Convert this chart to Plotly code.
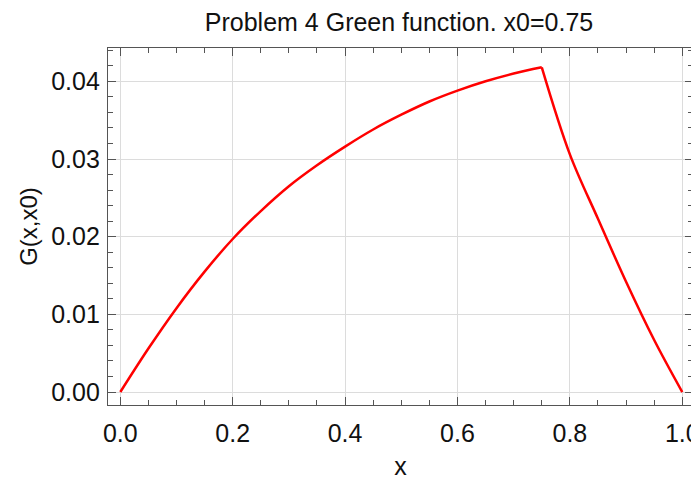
import plotly.graph_objects as go

# Left branch (0 <= x <= x0) and right branch (x0 <= x <= 1)
left_x = [0.0, 0.05, 0.1, 0.15, 0.2, 0.25, 0.3, 0.35, 0.4, 0.45, 0.5, 0.55, 0.6, 0.65, 0.7, 0.75]
left_g = [0.0, 0.0056, 0.0108, 0.0155, 0.0197, 0.0233, 0.0265, 0.0292, 0.0316, 0.0338, 0.0357, 0.0374, 0.0388, 0.0400, 0.0410, 0.0418]
right_x = [0.75, 0.8, 0.85, 0.9, 0.95, 1.0]
right_g = [0.0418, 0.0306, 0.0223, 0.0142, 0.0067, 0.0]

x_ticks = [0.0, 0.2, 0.4, 0.6, 0.8, 1.0]
x_ticklabels = ["0.0", "0.2", "0.4", "0.6", "0.8", "1.0"]
y_ticks = [0.0, 0.01, 0.02, 0.03, 0.04]
y_ticklabels = ["0.00", "0.01", "0.02", "0.03", "0.04"]

title_text = "Problem 4 Green function. x0=0.75"
x_label = "x"
y_label = "G(x,x0)"

RED = "#ff0000"
FRAME = "#555555"
TEXT = "#111111"
FONT = "Liberation Sans, Arial, sans-serif"

fig = go.Figure()
for xs, gs in ((left_x, left_g), (right_x, right_g)):
    fig.add_trace(go.Scatter(x=xs, y=gs, mode="lines",
                             line=dict(color=RED, width=2.5, shape="spline", smoothing=1.0),
                             showlegend=False, hoverinfo="skip"))

axis_common = dict(
    showline=True, linecolor=FRAME, linewidth=1.2, mirror="allticks",
    ticks="inside", ticklen=8, tickwidth=1.2, tickcolor=FRAME,
    showgrid=True, gridcolor="#dcdcdc", gridwidth=1,
    zeroline=False, automargin=False,
    tickfont=dict(family=FONT, size=25, color=TEXT),
)

fig.update_xaxes(
    range=[-0.0219, 1.0191], tickmode="array", tickvals=x_ticks, ticktext=x_ticklabels,
    minor=dict(dtick=0.05, tick0=0, ticks="inside", ticklen=4.5, tickcolor=FRAME, showgrid=False),
    title=dict(text=x_label, font=dict(family=FONT, size=25, color=TEXT), standoff=11),
    ticklabelstandoff=6,
    **axis_common,
)
fig.update_yaxes(
    range=[-0.00167, 0.04429], tickmode="array", tickvals=y_ticks, ticktext=y_ticklabels,
    minor=dict(dtick=0.002, tick0=0, ticks="inside", ticklen=4.5, tickcolor=FRAME, showgrid=False),
    title=dict(text=y_label, font=dict(family=FONT, size=24, color=TEXT), standoff=6),
    ticklabelstandoff=2,
    **axis_common,
)

# The page body adds an 8px offset; margins compensate so the frame lands where the reference has it.
fig.update_layout(
    width=699, height=484,
    margin=dict(l=100, r=14, t=40, b=87, autoexpand=False),
    paper_bgcolor="white", plot_bgcolor="white",
    title=dict(text=title_text, x=0.5594, xanchor="center", y=0.9711, yanchor="middle",
               font=dict(family=FONT, size=25, color=TEXT), automargin=False),
)

fig.write_html("out.html")
